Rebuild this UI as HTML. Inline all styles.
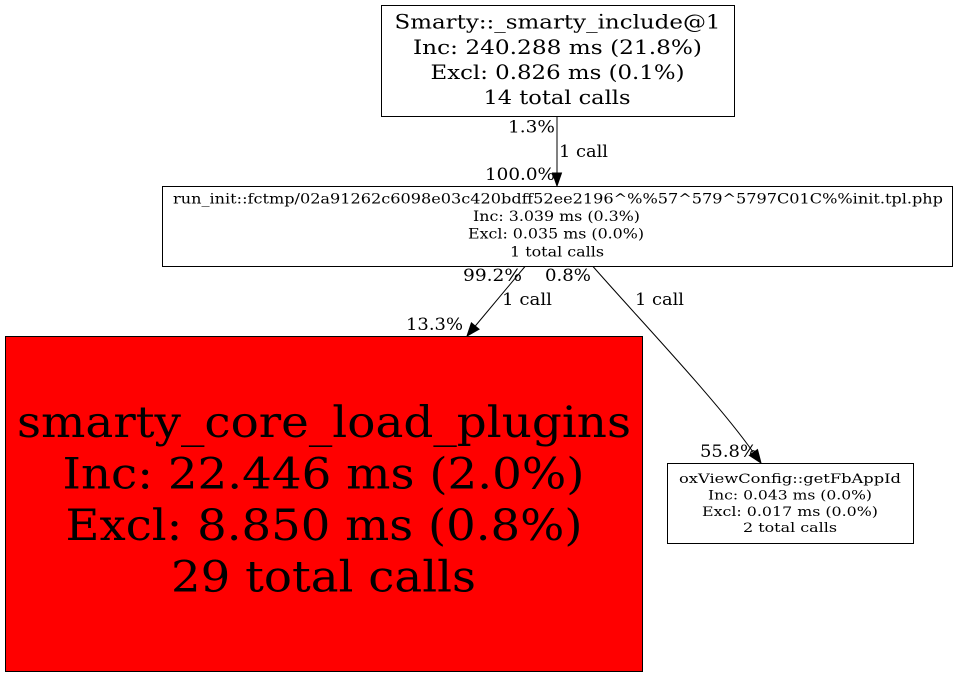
<!DOCTYPE html>
<html>
<head>
<meta charset="utf-8">
<style>
  html, body { margin: 0; padding: 0; background: #ffffff; }
  body { width: 957px; height: 677px; overflow: hidden; }
  svg { display: block; }
  text { font-family: "DejaVu Serif", "Liberation Serif", serif; fill: #000; }
</style>
</head>
<body>
<svg width="957" height="677" viewBox="0 0 957 677" xmlns="http://www.w3.org/2000/svg">
  <rect x="0" y="0" width="957" height="677" fill="#ffffff"/>

  <!-- Top node -->
  <rect x="381.5" y="5.5" width="353" height="111" fill="#ffffff" stroke="#000" stroke-width="1"/>
  <g font-size="19.5" text-anchor="middle">
    <text x="557.5" y="28.5" textLength="326" lengthAdjust="spacingAndGlyphs">Smarty::_smarty_include@1</text>
    <text x="557.5" y="53.8" textLength="289" lengthAdjust="spacingAndGlyphs">Inc: 240.288 ms (21.8%)</text>
    <text x="557.5" y="79" textLength="254" lengthAdjust="spacingAndGlyphs">Excl: 0.826 ms (0.1%)</text>
    <text x="557" y="104" textLength="147" lengthAdjust="spacingAndGlyphs">14 total calls</text>
  </g>

  <!-- Edge top -> middle -->
  <line x1="557" y1="116.5" x2="557" y2="173" stroke="#000" stroke-width="1"/>
  <polygon points="552.5,173 561.5,173 557,186" fill="#000" stroke="#000" stroke-width="1"/>
  <g font-size="17">
    <text x="508" y="132.5" textLength="47" lengthAdjust="spacingAndGlyphs">1.3%</text>
    <text x="559" y="157" textLength="49" lengthAdjust="spacingAndGlyphs">1 call</text>
    <text x="485" y="180" textLength="70" lengthAdjust="spacingAndGlyphs">100.0%</text>
  </g>

  <!-- Middle node -->
  <rect x="162.5" y="186.5" width="790" height="80" fill="#ffffff" stroke="#000" stroke-width="1"/>
  <g font-size="13.7" text-anchor="middle">
    <text x="558" y="203.3" textLength="770" lengthAdjust="spacingAndGlyphs">run_init::fctmp/02a91262c6098e03c420bdff52ee2196^%%57^579^5797C01C%%init.tpl.php</text>
    <text x="556.5" y="221" textLength="167" lengthAdjust="spacingAndGlyphs">Inc: 3.039 ms (0.3%)</text>
    <text x="556" y="238.5" textLength="176" lengthAdjust="spacingAndGlyphs">Excl: 0.035 ms (0.0%)</text>
    <text x="557" y="256.5" textLength="94" lengthAdjust="spacingAndGlyphs">1 total calls</text>
  </g>

  <!-- Edge labels below middle -->
  <g font-size="17">
    <text x="463" y="281" textLength="59" lengthAdjust="spacingAndGlyphs">99.2%</text>
    <text x="545" y="281" textLength="46" lengthAdjust="spacingAndGlyphs">0.8%</text>
    <text x="502" y="305" textLength="50" lengthAdjust="spacingAndGlyphs">1 call</text>
    <text x="635" y="305" textLength="49" lengthAdjust="spacingAndGlyphs">1 call</text>
    <text x="406" y="330" textLength="57" lengthAdjust="spacingAndGlyphs">13.3%</text>
    <text x="700" y="457" textLength="57" lengthAdjust="spacingAndGlyphs">55.8%</text>
  </g>

  <!-- Edge middle -> red node -->
  <line x1="525" y1="266.5" x2="475.3" y2="326" stroke="#000" stroke-width="1"/>
  <polygon points="479.1,329.2 471.4,322.8 467,336" fill="#000" stroke="#000" stroke-width="1"/>

  <!-- Edge middle -> FbAppId node -->
  <path d="M593,266.5 C640,320 718,402 753.4,452.5" fill="none" stroke="#000" stroke-width="1"/>
  <polygon points="749.3,455.4 757.5,449.6 761,463" fill="#000" stroke="#000" stroke-width="1"/>

  <!-- Red node -->
  <rect x="5.5" y="336.5" width="637" height="335" fill="#ff0000" stroke="#000" stroke-width="1"/>
  <g font-size="43" text-anchor="middle">
    <text x="324" y="437" textLength="614" lengthAdjust="spacingAndGlyphs">smarty_core_load_plugins</text>
    <text x="323.5" y="488.5" textLength="522" lengthAdjust="spacingAndGlyphs">Inc: 22.446 ms (2.0%)</text>
    <text x="324" y="540" textLength="517" lengthAdjust="spacingAndGlyphs">Excl: 8.850 ms (0.8%)</text>
    <text x="323.5" y="591.7" textLength="305" lengthAdjust="spacingAndGlyphs">29 total calls</text>
  </g>

  <!-- FbAppId node -->
  <rect x="667.5" y="463.5" width="246" height="80" fill="#ffffff" stroke="#000" stroke-width="1"/>
  <g font-size="13.3" text-anchor="middle">
    <text x="790" y="483" textLength="222" lengthAdjust="spacingAndGlyphs">oxViewConfig::getFbAppId</text>
    <text x="790" y="499.5" textLength="164" lengthAdjust="spacingAndGlyphs">Inc: 0.043 ms (0.0%)</text>
    <text x="790" y="516" textLength="176" lengthAdjust="spacingAndGlyphs">Excl: 0.017 ms (0.0%)</text>
    <text x="790" y="532" textLength="94" lengthAdjust="spacingAndGlyphs">2 total calls</text>
  </g>
</svg>
</body>
</html>
